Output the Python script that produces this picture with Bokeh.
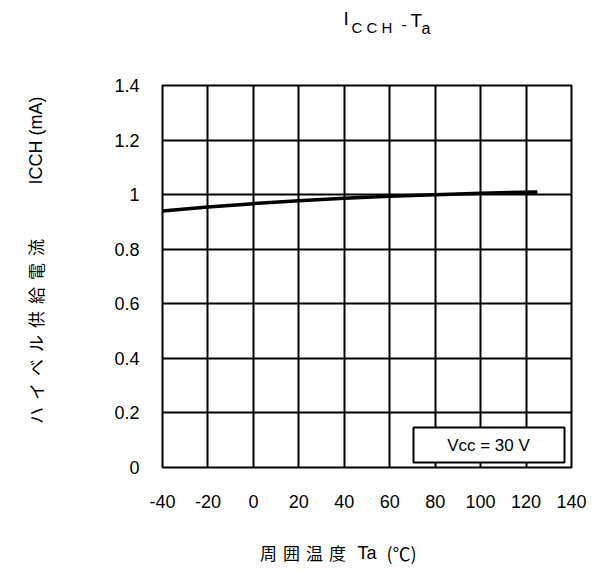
from math import pi
from bokeh.plotting import figure
from bokeh.layouts import column, row
from bokeh.models import Range1d, FixedTicker, NumeralTickFormatter, Label, BoxAnnotation
from bokeh.core.properties import value
from bokeh.embed import file_html
from bokeh.resources import INLINE

# data
temp = [-40, -20, 0, 20, 40, 60, 80, 100, 125]
icch = [0.940, 0.955, 0.967, 0.978, 0.987, 0.994, 1.000, 1.005, 1.010]
x_ticks = [-40, -20, 0, 20, 40, 60, 80, 100, 120, 140]
y_ticks = [0, 0.2, 0.4, 0.6, 0.8, 1.0, 1.2, 1.4]
y_label_jp = ["ハ", "イ", "ベ", "ル", "供", "給", "電", "流"]
x_label_jp = ["周", "囲", "温", "度"]
legend_text = "Vcc = 30 V"

LAT = "Liberation Sans"
JP = "Noto Sans CJK JP"

W = 592
TOP_H, MID_H, BOT_H, LEFT_W = 50, 475, 40, 70
FL, FR, FT, FB = 162, 571, 85, 467          # frame edges on the page
X0, X1, Y0, Y1 = -40, 140, 0, 1.4
BT, BB = FT - TOP_H, TOP_H + MID_H - FB     # top / bottom borders of the middle row


def blank(w, h, yr=None, bt=0, bb=0):
    f = figure(width=w, height=h, output_backend="svg", toolbar_location=None,
               x_range=Range1d(0, w), y_range=yr if yr is not None else Range1d(h, 0),
               x_axis_type=None, y_axis_type=None, min_border=0,
               min_border_top=bt, min_border_bottom=bb)
    f.grid.visible = False
    f.outline_line_color = None
    f.background_fill_color = "white"
    f.border_fill_color = "white"
    return f


def txt(f, x, y, t, size, font=LAT, align="left", angle=0):
    f.text(x=[x], y=[y], text=[t], text_font=value(font), text_font_size=value(size),
           text_align=align, text_baseline="middle", text_color="black", angle=angle)


# ---- main plot
MW = W - LEFT_W
p = figure(width=MW, height=MID_H, output_backend="svg", toolbar_location=None,
           x_range=Range1d(X0, X1), y_range=Range1d(Y0, Y1),
           min_border_left=FL - LEFT_W, min_border_right=MW - (FR - LEFT_W),
           min_border_top=BT, min_border_bottom=BB)
p.background_fill_color = "white"
p.border_fill_color = "white"
p.outline_line_color = "black"
p.outline_line_width = 2

for ax in (p.xaxis, p.yaxis):
    ax.axis_line_color = None
    ax.major_tick_line_color = None
    ax.minor_tick_line_color = None
    ax.major_label_text_font = LAT
    ax.major_label_text_font_size = "18px"
    ax.major_label_text_color = "black"

p.xaxis.ticker = FixedTicker(ticks=x_ticks)
p.yaxis.ticker = FixedTicker(ticks=y_ticks)
p.yaxis.formatter = NumeralTickFormatter(format="0.[0]")
p.xaxis.major_label_overrides = {t: str(t) for t in x_ticks}
p.xaxis.major_label_standoff = 21
p.yaxis.major_label_standoff = 17

p.xgrid.ticker = FixedTicker(ticks=x_ticks)
p.ygrid.ticker = FixedTicker(ticks=y_ticks)
for g in (p.xgrid, p.ygrid):
    g.grid_line_color = "black"
    g.grid_line_width = 2
    g.grid_line_alpha = 1

p.line(temp, icch, line_color="black", line_width=3.5)


def dx(px):
    return X0 + (px - FL) * (X1 - X0) / (FR - FL)


def dy(py):
    return Y0 + (FB - py) * (Y1 - Y0) / (FB - FT)


p.add_layout(BoxAnnotation(left=dx(413), right=dx(564), top=dy(427), bottom=dy(462),
                           fill_color="white", fill_alpha=1,
                           line_color="black", line_width=2, line_alpha=1))
p.add_layout(Label(x=dx(488), y=dy(445), text=legend_text, text_align="center",
                   text_baseline="middle", text_font=LAT, text_font_size="17px",
                   text_color="black"))

# ---- title strip (coordinates = page pixels)
top = blank(W, TOP_H)
txt(top, 343, 18, "I", "19px")
txt(top, 351, 27, "C C H", "15px")
txt(top, 401, 23, "-", "16px")
txt(top, 410, 20, "T", "19px")
txt(top, 421, 28, "a", "16px")

# ---- y label strip (frame aligned with main frame; y data = page pixels)
left = blank(LEFT_W, MID_H, yr=Range1d(FB, FT), bt=BT, bb=BB)
jp_y = [415, 391, 367, 343, 319, 295, 271, 247]
for ch, yy in zip(y_label_jp, jp_y):
    txt(left, 35, yy, ch, "17px", font=JP, align="center", angle=pi / 2)
txt(left, 35, 140, "ICCH (mA)", "18px", align="center", angle=pi / 2)

# ---- x label strip
bot = blank(W, BOT_H)
XL_Y = 552 - TOP_H - MID_H
jp_x = [268, 291, 314, 337]
for ch, xx in zip(x_label_jp, jp_x):
    txt(bot, xx, XL_Y, ch, "17px", font=JP, align="center")
txt(bot, 357, XL_Y, "Ta", "18px")
txt(bot, 386, XL_Y, "(℃)", "18px", font=JP)

layout = column(top, row(left, p), bot)
open("out.html", "w").write(file_html(layout, INLINE))
